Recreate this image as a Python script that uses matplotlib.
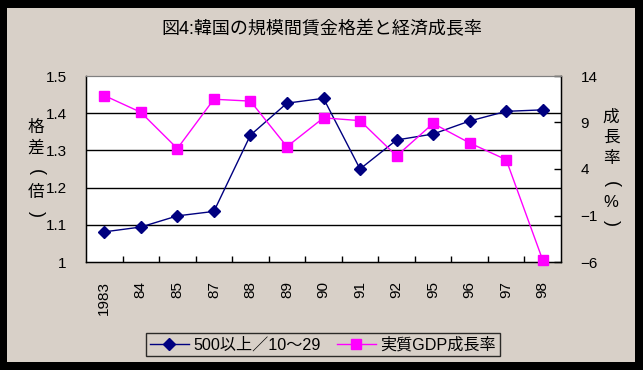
import matplotlib
matplotlib.use("Agg")
import matplotlib.pyplot as plt
from matplotlib.patches import Rectangle
import numpy as np

plt.rcParams['font.family'] = ['Liberation Sans', 'Noto Sans CJK JP', 'DejaVu Sans']

years = ["1983", "84", "85", "87", "88", "89", "90", "91", "92", "95", "96", "97", "98"]
wage_gap = [1.081, 1.094, 1.124, 1.136, 1.341, 1.427, 1.440, 1.250, 1.328, 1.344, 1.379, 1.405, 1.409]
gdp_growth = [11.9, 10.1, 6.2, 11.5, 11.3, 6.4, 9.5, 9.2, 5.4, 8.9, 6.8, 5.0, -5.8]

title = "図4:韓国の規模間賃金格差と経済成長率"
left_label = ["格", "差", "（", "倍", "）"]
right_label = ["成", "長", "率", "（", "%", "）"]
series_names = ["500以上／10～29", "実質GDP成長率"]

W, H = 643, 370
fig = plt.figure(figsize=(W / 100, H / 100), dpi=100)
fig.patch.set_facecolor('black')
bg = '#d8d0c8'
fig.add_artist(Rectangle((7 / W, 1 - 362 / H), (635 - 7) / W, (362 - 8) / H,
                         transform=fig.transFigure, facecolor=bg, edgecolor='none', zorder=0))

ax = fig.add_axes([86 / W, 1 - 262 / H, (561 - 86) / W, (262 - 76) / H])
ax.set_facecolor('white')
x = np.arange(len(years))

ax.set_xlim(-0.5, len(years) - 0.5)
ax.set_ylim(1.0, 1.5)
ax.set_yticks([1.0, 1.1, 1.2, 1.3, 1.4, 1.5])
ax.set_yticklabels(["1", "1.1", "1.2", "1.3", "1.4", "1.5"])
for v in [1.1, 1.2, 1.3, 1.4]:
    ax.axhline(v, color='black', lw=1.0, zorder=1)
ax.tick_params(axis='y', length=0, pad=14, labelsize=11)

ax.set_xticks(x)
ax.set_xticklabels(years, rotation=90, fontsize=11)
ax.set_xticks(np.arange(0.5, len(years) - 1, 1.0), minor=True)
ax.tick_params(axis='x', which='major', length=0, pad=14)
ax.tick_params(axis='x', which='minor', direction='in', length=4, width=1, color='black')

ax.spines['top'].set_color('#808080')
for s in ['left', 'bottom', 'right']:
    ax.spines[s].set_color('black')
    ax.spines[s].set_linewidth(1.0)

l1, = ax.plot(x, wage_gap, color='#000080', lw=1.0, marker='D', markersize=6,
              markerfacecolor='#000080', markeredgecolor='#000080', zorder=3,
              label=series_names[0], clip_on=False)

ax2 = ax.twinx()
ax2.set_ylim(-6, 14)
ax2.set_yticks([-6, -1, 4, 9, 14])
ax2.set_yticklabels(["−6", "−1", "4", "9", "14"])
ax2.tick_params(axis='y', direction='in', length=5, width=1, pad=14, labelsize=11)
ax2.spines['top'].set_color('#808080')
ax2.spines['right'].set_color('black')
l2, = ax2.plot(x, gdp_growth, color='#ff00ff', lw=1.0, marker='s', markersize=7,
               markerfacecolor='#ff00ff', markeredgecolor='#ff00ff', zorder=3,
               label=series_names[1], clip_on=False)

fig.text(322 / W, 1 - 30 / H, title, ha='center', va='center', fontsize=13)

cjk = ['Noto Sans CJK JP', 'Liberation Sans']


def vchar(xp, yp, ch):
    if ch in ("（", "）"):
        fig.text(xp / W, 1 - yp / H, "(" if ch == "（" else ")", ha='center', va='center',
                 fontsize=13, rotation=-90, family=['Liberation Sans'], rotation_mode='anchor')
    elif ch == "%":
        fig.text(xp / W, 1 - yp / H, ch, ha='center', va='center', fontsize=12,
                 family=['Liberation Sans'])
    else:
        fig.text(xp / W, 1 - yp / H, ch, ha='center', va='center', fontsize=12, family=cjk)


left_y = [127, 148, 172, 192, 214]
for ch, yy in zip(left_label, left_y):
    vchar(36, yy, ch)
right_y = [117, 137, 158, 184, 203, 223]
for ch, yy in zip(right_label, right_y):
    vchar(611, yy, ch)

leg = fig.legend([l1, l2], series_names, loc='center', bbox_to_anchor=(323 / W, 1 - 344.5 / H),
                 ncol=2, frameon=True, fontsize=11.6, handlelength=2.4, columnspacing=1.0,
                 handletextpad=0.3, borderpad=0.25, fancybox=False)
leg.get_frame().set_facecolor(bg)
leg.get_frame().set_edgecolor('black')
leg.get_frame().set_linewidth(1.0)

fig.savefig("out.png", dpi=100, facecolor=fig.get_facecolor())
